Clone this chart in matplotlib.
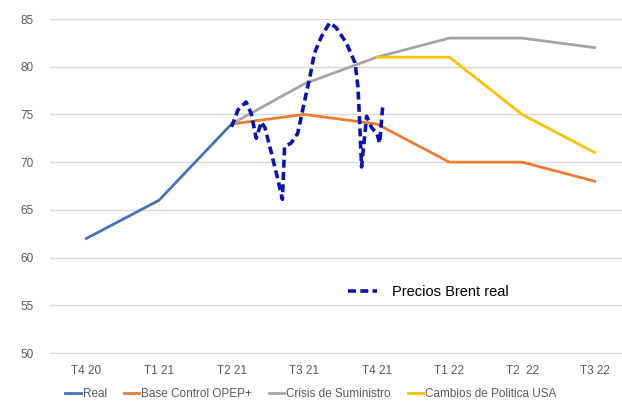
import matplotlib.pyplot as plt
from matplotlib.lines import Line2D

plt.rcParams['font.family'] = ['Liberation Sans', 'DejaVu Sans']

quarters = ['T4 20', 'T1 21', 'T2 21', 'T3 21', 'T4 21', 'T1 22', 'T2  22', 'T3 22']

real = [62, 66, 74]
base_opep = [74, 75, 74, 70, 70, 68]          # from T2 21
crisis = [74, 78.2, 81, 83, 83, 82]           # from T2 21
politica_usa = [81, 81, 75, 71]               # from T4 21

# hand drawn "Precios Brent real" curve (x in quarter units, y in USD)
brent_x = [2.0, 2.09, 2.2, 2.27, 2.34, 2.41, 2.46, 2.55, 2.64, 2.70, 2.73, 2.82,
           2.91, 2.98, 3.08, 3.14, 3.24, 3.35, 3.44, 3.58, 3.70, 3.74, 3.76,
           3.79, 3.86, 3.93, 4.0, 4.04, 4.08]
brent_y = [73.7, 75.5, 76.3, 75.1, 72.5, 74.2, 73.6, 70.9, 68.1, 66.1, 71.6, 72.0,
           73.0, 75.5, 79.0, 81.4, 83.2, 84.6, 84.1, 82.5, 80.4, 77.9, 74.8,
           69.5, 74.8, 73.6, 73.0, 72.0, 75.8]

fig = plt.figure(figsize=(6.22, 4.09), dpi=100)
ax = fig.add_axes([50 / 622, 1 - 353 / 409, 581 / 622, 334 / 409])

x = list(range(len(quarters)))
l1, = ax.plot(x[:3], real, color='#4472C4', lw=2, label='Real')
l2, = ax.plot(x[2:], base_opep, color='#ED7D31', lw=2, label='Base Control OPEP+')
l3, = ax.plot(x[2:], crisis, color='#A5A5A5', lw=2, label='Crisis de Suministro')
l4, = ax.plot(x[4:], politica_usa, color='#FFC000', lw=2, label='Cambios de Politica USA')
ax.plot(brent_x, brent_y, color='#0A14B4', lw=2.6, ls=(0, (2.2, 1.2)), zorder=5)

ax.set_xlim(-0.5, 7.5)
ax.set_ylim(50, 85)
ax.set_yticks(range(50, 90, 5))
ax.set_xticks(x)
ax.set_xticklabels(quarters)
ax.grid(axis='y', color='#D9D9D9', lw=1)
ax.set_axisbelow(True)
for s in ['top', 'right', 'left']:
    ax.spines[s].set_visible(False)
ax.spines['bottom'].set_color('#D9D9D9')
ax.tick_params(length=0, colors='#595959', labelsize=8.5)
ax.tick_params(axis='y', pad=12)
ax.tick_params(axis='x', pad=9)

fig.legend(handles=[l1, l2, l3, l4], loc='lower center', ncol=4, frameon=False,
           bbox_to_anchor=(0.5, -0.005), fontsize=8.5, labelcolor='#595959',
           handlelength=1.3, handletextpad=0.2, columnspacing=1.4)

brent_handle = Line2D([], [], color='#0A14B4', lw=2.6, ls=(0, (2.2, 1.2)))
fig.legend(handles=[brent_handle], labels=['Precios Brent real'], loc='center left',
           bbox_to_anchor=(335 / 622, 1 - 292 / 409), frameon=False, fontsize=10.5,
           handlelength=2.0, handletextpad=1.0)

fig.savefig('out.png', dpi=100)
